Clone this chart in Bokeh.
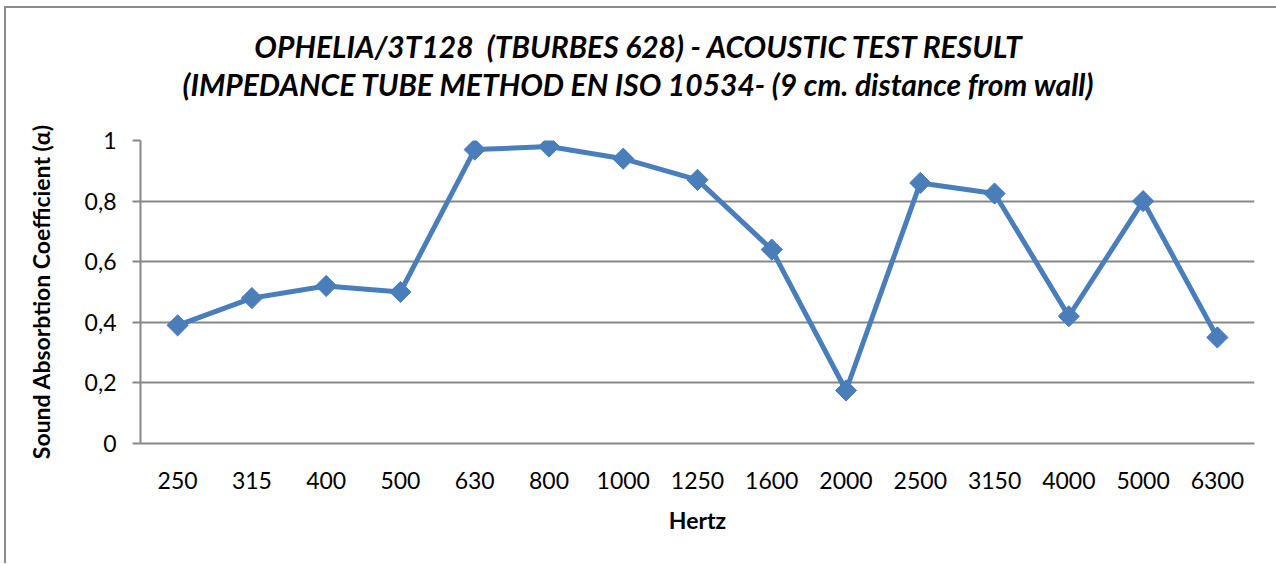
from bokeh.plotting import figure
from bokeh.models import FixedTicker, CustomJSTickFormatter, ColumnDataSource, Range1d, Div
from bokeh.layouts import column
from bokeh.embed import file_html
from bokeh.resources import INLINE
import math

hertz = ["250", "315", "400", "500", "630", "800", "1000", "1250", "1600",
         "2000", "2500", "3150", "4000", "5000", "6300"]
alpha = [0.39, 0.48, 0.52, 0.50, 0.97, 0.98, 0.94, 0.87, 0.64,
         0.175, 0.86, 0.825, 0.42, 0.80, 0.35]
y_ticks = [0, 0.2, 0.4, 0.6, 0.8, 1.0]

title_line1 = "OPHELIA/3T128&nbsp;&nbsp;(TBURBES 628) - ACOUSTIC TEST RESULT"
title_line2 = "(IMPEDANCE TUBE METHOD EN ISO 10534- (9 cm. distance from wall)"

src = ColumnDataSource(dict(x=hertz, y=alpha))

FONT = "Lato"
GRID = "#878787"
BLUE = "#4A7EBB"

title_div = Div(
    text=(f"<div style=\"font-family:'Lato';font-weight:bold;font-style:italic;"
          f"font-size:30px;line-height:38px;color:#000;text-align:center;"
          f"white-space:nowrap;padding-top:14px;width:1254px;\">"
          f"{title_line1}<br>{title_line2}</div>"),
    width=1270, height=98, styles={"background-color": "white"})

p = figure(width=1270, height=447, x_range=hertz, y_range=Range1d(0, 1),
           output_backend="svg", toolbar_location=None, title=None,
           min_border_left=134, min_border_right=22, min_border_top=24,
           min_border_bottom=120,
           background_fill_color="white", border_fill_color="white")

p.x_range.range_padding = 0
p.outline_line_color = None

p.line("x", "y", source=src, line_color=BLUE, line_width=5)
p.scatter("x", "y", source=src, marker="square", angle=math.pi / 4, size=15,
          fill_color=BLUE, line_color=BLUE)

# y axis
p.yaxis.ticker = FixedTicker(ticks=y_ticks)
p.yaxis.formatter = CustomJSTickFormatter(code="return (Math.round(tick*10)/10).toString().replace('.', ',');")
p.yaxis.axis_label = "Sound Absorbtion Coefficient (α)"
p.yaxis.axis_label_text_font = FONT
p.yaxis.axis_label_text_font_style = "bold"
p.yaxis.axis_label_text_font_size = "23px"
p.yaxis.axis_label_text_color = "#000000"
p.yaxis.axis_label_standoff = 27
p.yaxis.major_label_text_font = FONT
p.yaxis.major_label_text_font_size = "23px"
p.yaxis.major_label_text_color = "#000000"
p.yaxis.major_label_standoff = 16
p.yaxis.axis_line_color = GRID
p.yaxis.axis_line_width = 2
p.yaxis.major_tick_line_color = GRID
p.yaxis.major_tick_line_width = 2
p.yaxis.major_tick_out = 8
p.yaxis.major_tick_in = 0
p.yaxis.minor_tick_line_color = None

# x axis
p.xaxis.axis_label = "Hertz"
p.xaxis.axis_label_text_font = FONT
p.xaxis.axis_label_text_font_style = "bold"
p.xaxis.axis_label_text_font_size = "23px"
p.xaxis.axis_label_text_color = "#000000"
p.xaxis.axis_label_standoff = 14
p.xaxis.major_label_text_font = FONT
p.xaxis.major_label_text_font_size = "23px"
p.xaxis.major_label_text_color = "#000000"
p.xaxis.major_label_standoff = 22
p.xaxis.axis_line_color = GRID
p.xaxis.axis_line_width = 2
p.xaxis.major_tick_line_color = None

p.xgrid.grid_line_color = None
p.ygrid.grid_line_color = GRID
p.ygrid.grid_line_width = 2

layout = column(title_div, p, spacing=0,
                styles={"border-left": "2px solid #8c8c8c", "border-top": "2px solid #8c8c8c",
                        "margin-left": "4px", "margin-top": "6px"})

open("out.html", "w").write(file_html(layout, INLINE))
